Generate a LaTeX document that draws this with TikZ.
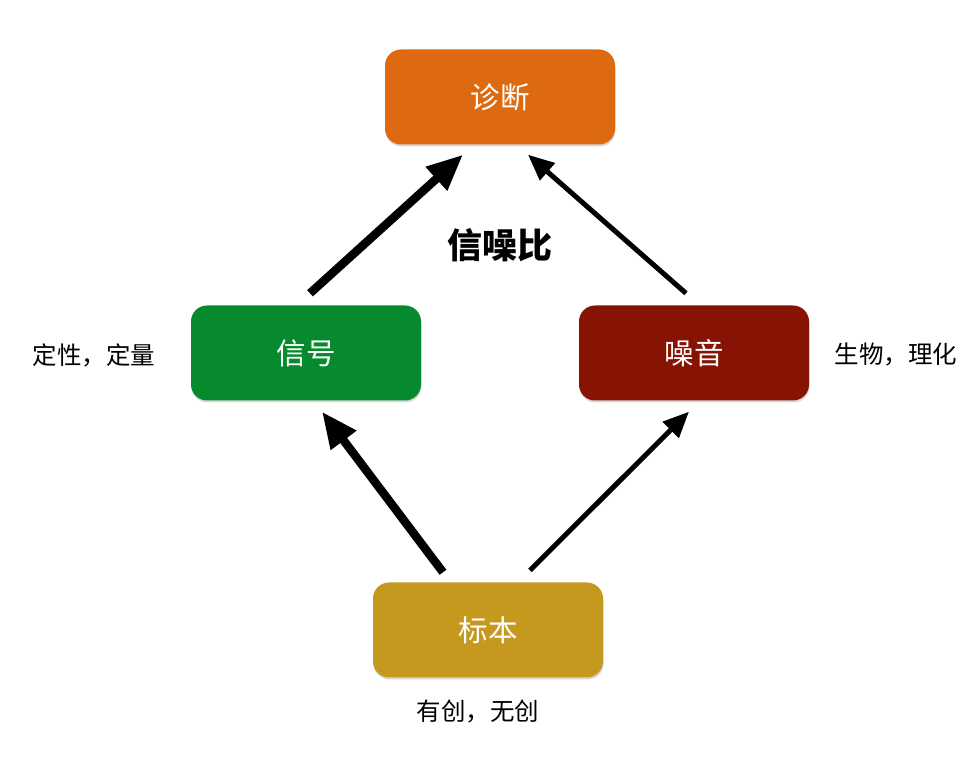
\documentclass[tikz,border=0pt]{standalone}
\usepackage{fontspec}
\setmainfont{Noto Sans CJK SC}
\usetikzlibrary{arrows.meta,shadows}
\definecolor{cdiag}{HTML}{DD6A10}
\definecolor{csig}{HTML}{078A2E}
\definecolor{cnoise}{HTML}{861303}
\definecolor{cspec}{HTML}{C4991D}
\tikzset{
  box/.style={rounded corners=16pt, minimum width=230pt, minimum height=95pt, inner sep=0pt,
    text=white, font=\fontsize{29.5}{31}\selectfont,
    drop shadow={opacity=0.3, shadow xshift=0.5pt, shadow yshift=-2pt}},
  note/.style={font=\fontsize{24.5}{27}\selectfont, text=black},
  thickarrow/.style={line width=8.5pt, -{Triangle[length=36pt,width=30pt]}},
  thinarrow/.style={line width=5pt, -{Triangle[length=26pt,width=22pt]}},
}
\begin{document}
\begin{tikzpicture}[x=1pt,y=1pt]
\useasboundingbox (0,0) rectangle (978,768);
\node[box, fill=cdiag] (diag) at (500,671) {诊断};
\node[box, fill=csig] (sig) at (306,415) {信号};
\node[box, fill=cnoise] (noise) at (694,415) {噪音};
\node[box, fill=cspec] (spec) at (488,138) {标本};
\node[note] (lsig) at (94,413) {定性，定量};
\node[note] (lnoise) at (896,413) {生物，理化};
\node[note] (lspec) at (478,56) {有创，无创};
\node[font=\fontsize{35}{38}\selectfont\bfseries] (snr) at (500,523) {信噪比};
\draw[thickarrow] ([xshift=4pt,yshift=12pt]sig.north) -- ([xshift=-37pt,yshift=-10pt]diag.south);
\draw[thinarrow] ([xshift=-8pt,yshift=12pt]noise.north) -- ([xshift=28pt,yshift=-10pt]diag.south);
\draw[thickarrow] ([xshift=-45pt,yshift=10pt]spec.north) -- ([xshift=16pt,yshift=-11pt]sig.south);
\draw[thinarrow] ([xshift=42pt,yshift=12pt]spec.north) -- ([xshift=-5pt,yshift=-11pt]noise.south);
\end{tikzpicture}
\end{document}
